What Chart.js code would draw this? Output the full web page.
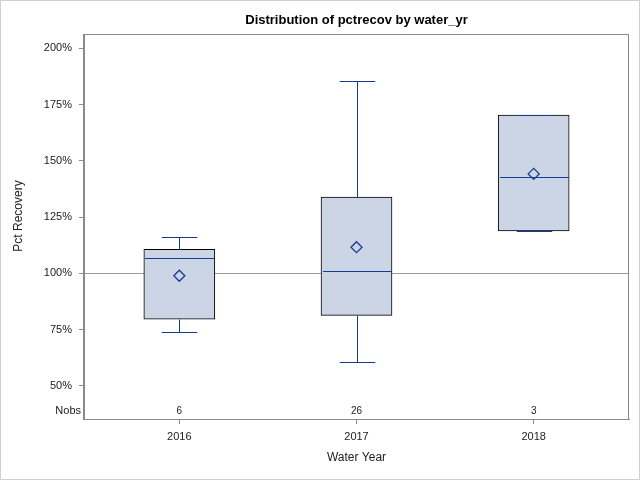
<!DOCTYPE html>
<html>
<head>
<meta charset="utf-8">
<script src="https://cdn.jsdelivr.net/npm/chart.js@4/dist/chart.umd.min.js"></script>
<style>
  html, body { margin: 0; padding: 0; background: #fff; }
  canvas { display: block; }
</style>
</head>
<body>
<canvas id="c" width="640" height="480"></canvas>
<script>
// ---- data ----
const years = ["2016", "2017", "2018"];
const nobs = [6, 26, 3];
const whiskerLow = [73.8, 60.4, 118.8];
const q1 = [79.6, 81.3, 118.8];
const median = [106.9, 100.9, 142.7];
const q3 = [110.7, 133.9, 170.3];
const whiskerHigh = [116.0, 185.7, 170.3];
const means = [98.9, 111.6, 144.2];
const yTicks = [50, 75, 100, 125, 150, 175, 200];
const refLine = 100;

const FONT = "'Liberation Sans', Arial, sans-serif";
const BLUE = "#143d8f";
const FILL = "#cbd5e5";
const FRAME = "#8a8a8a";

// extra pieces of a SAS-style box plot
const boxExtras = {
  id: "boxExtras",
  beforeDatasetsDraw(chart) {
    const { ctx, chartArea: a, scales: { y } } = chart;
    const py = Math.round(y.getPixelForValue(refLine)) + 0.5;
    ctx.save();
    ctx.strokeStyle = "#9a9a9a";
    ctx.lineWidth = 1;
    ctx.beginPath();
    ctx.moveTo(a.left, py);
    ctx.lineTo(a.right, py);
    ctx.stroke();
    ctx.restore();
  },
  afterDatasetsDraw(chart) {
    const { ctx, scales: { x, y } } = chart;
    const bars = chart.getDatasetMeta(0).data;
    ctx.save();
    years.forEach((_, i) => {
      const cx = Math.round(x.getPixelForValue(i)) + 0.5;
      const half = bars[i].width / 2;
      const cap = half / 2;
      const p = (v) => Math.round(y.getPixelForValue(v)) + 0.5;
      ctx.strokeStyle = BLUE;
      ctx.lineWidth = 1;
      ctx.beginPath();
      // whiskers
      ctx.moveTo(cx, p(q3[i]));
      ctx.lineTo(cx, p(whiskerHigh[i]));
      ctx.moveTo(cx, p(q1[i]));
      ctx.lineTo(cx, p(whiskerLow[i]));
      // caps
      ctx.moveTo(cx - cap, p(whiskerHigh[i]));
      ctx.lineTo(cx + cap, p(whiskerHigh[i]));
      ctx.moveTo(cx - cap, p(whiskerLow[i]));
      ctx.lineTo(cx + cap, p(whiskerLow[i]));
      // median
      ctx.moveTo(cx - half + 1, p(median[i]));
      ctx.lineTo(cx + half - 1, p(median[i]));
      ctx.stroke();
    });
    ctx.restore();
  },
  afterDraw(chart) {
    const { ctx, chartArea: a, scales: { x } } = chart;
    ctx.save();
    // plot frame
    ctx.strokeStyle = FRAME;
    ctx.lineWidth = 1;
    ctx.strokeRect(a.left - 0.5, a.top + 0.5, a.right - a.left, a.bottom - a.top);
    // outer border
    ctx.strokeStyle = "#d0d0d0";
    ctx.strokeRect(0.5, 0.5, 639, 479);

    // title
    ctx.fillStyle = "#000";
    ctx.font = "bold 13px " + FONT;
    ctx.textAlign = "center";
    ctx.textBaseline = "middle";
    ctx.fillText("Distribution of pctrecov by water_yr", (a.left + a.right) / 2, 20);

    // axis titles
    ctx.fillStyle = "#222";
    ctx.font = "12px " + FONT;
    ctx.fillText("Water Year", (a.left + a.right) / 2, 458);
    ctx.save();
    ctx.translate(19, 216);
    ctx.rotate(-Math.PI / 2);
    ctx.fillText("Pct Recovery", 0, 0);
    ctx.restore();

    // Nobs inset
    const ny = a.bottom - 8;
    ctx.font = "11px " + FONT;
    ctx.textAlign = "right";
    ctx.fillText("Nobs", a.left - 3, ny);
    ctx.font = "10px " + FONT;
    ctx.textAlign = "center";
    nobs.forEach((n, i) => ctx.fillText(String(n), x.getPixelForValue(i), ny));
    ctx.restore();
  }
};

new Chart(document.getElementById("c"), {
  type: "bar",
  data: {
    datasets: [
      {
        label: "Box",
        data: years.map((_, i) => ({ x: i, y: [q1[i], q3[i]] })),
        backgroundColor: FILL,
        borderColor: "#000",
        borderWidth: 1,
        borderSkipped: false,
        barThickness: 71,
        order: 2
      },
      {
        type: "scatter",
        label: "Mean",
        data: years.map((_, i) => ({ x: i, y: means[i] })),
        pointStyle: "rectRot",
        pointRadius: 5.5,
        borderColor: BLUE,
        borderWidth: 1.3,
        backgroundColor: "rgba(0,0,0,0)",
        order: 1
      }
    ]
  },
  options: {
    responsive: false,
    animation: false,
    devicePixelRatio: 1,
    layout: { padding: { top: 34, right: 11, left: 0, bottom: 0 } },
    plugins: {
      legend: { display: false },
      tooltip: { enabled: false },
      title: { display: false }
    },
    scales: {
      x: {
        type: "linear",
        min: -0.538,
        max: 2.538,
        offset: false,
        afterBuildTicks: (s) => { s.ticks = years.map((_, i) => ({ value: i })); },
        afterFit: (s) => { s.height = 61; },
        ticks: {
          callback: (v) => years[v],
          color: "#222",
          font: { family: FONT, size: 11 },
          padding: 6,
          maxRotation: 0
        },
        grid: { drawOnChartArea: false, tickLength: 5, color: FRAME, offset: false },
        border: { color: FRAME }
      },
      y: {
        min: 35.2,
        max: 206.4,
        afterBuildTicks: (s) => { s.ticks = yTicks.map((v) => ({ value: v })); },
        afterFit: (s) => { s.width = 84; },
        ticks: {
          callback: (v) => v + "%",
          color: "#222",
          font: { family: FONT, size: 11 },
          padding: 7
        },
        grid: { drawOnChartArea: false, tickLength: 5, color: FRAME },
        border: { color: FRAME }
      }
    }
  },
  plugins: [boxExtras]
});
</script>
</body>
</html>
